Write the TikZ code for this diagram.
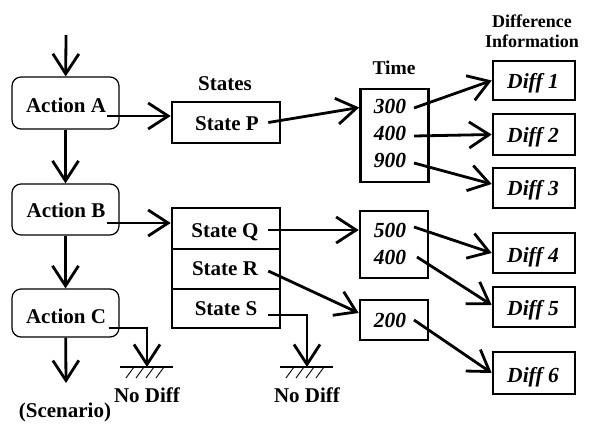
\documentclass[tikz,border=0pt]{standalone}
\usepackage{fontspec}
\setmainfont{Liberation Serif}
\usetikzlibrary{arrows.meta,calc}
\begin{document}
\begin{tikzpicture}[x=1pt,y=-1pt,
  lbl/.style={font=\fontsize{21}{24}\selectfont\bfseries, anchor=base, inner sep=2pt},
  num/.style={font=\fontsize{21.5}{24}\selectfont\bfseries\itshape, anchor=base, inner sep=2pt},
  head/.style={font=\fontsize{18}{20}\selectfont\bfseries, anchor=base, inner sep=0pt},
  actbox/.style={draw, line width=1.2pt, rounded corners=9pt, minimum width=107pt},
  box/.style={draw, line width=2.6pt, minimum width=108pt},
  tbox/.style={draw, line width=2.6pt, minimum width=68pt},
  dbox/.style={draw, line width=2.6pt, minimum width=82pt},
  conn/.style={line width=2.8pt, -{Straight Barb[length=20pt,width=26pt]}},
  hatch/.style={line width=0.9pt},
  groundline/.style={line width=2.2pt},
  ground/.pic={
    \draw[groundline] (-27,0) -- (26,0);
    \foreach \k in {0,...,3} \draw[hatch] (-13+10*\k,0) -- (-21+10*\k,11);
  }]
\useasboundingbox (0,0) rectangle (591,423);

% actions
\node[actbox, minimum height=52pt] (aA) at (65.5,103) {};
\node[actbox, minimum height=51pt] (aB) at (65.5,209.5) {};
\node[actbox, minimum height=48pt] (aC) at (65.5,313) {};
\node[lbl] (aAt) at (66,112) {Action A};
\node[lbl] (aBt) at (66,217) {Action B};
\node[lbl] (aCt) at (66,323) {Action C};
\coordinate (top) at (66,35);
\coordinate (bottom) at (66,383);
\node[lbl] (scen) at (65,417) {(Scenario)};

% states
\node[lbl] (stlbl) at (225,90) {States};
\node[box, minimum height=41pt] (sP) at (226,122.5) {};
\node[box, minimum height=41pt] (sQ) at (226,228.5) {};
\node[box, minimum height=40pt] (sR) at (226,269) {};
\node[box, minimum height=39pt] (sS) at (226,308.5) {};
\node[lbl] (sPt) at (227,130) {State P};
\node[lbl] (sQt) at (225,237) {State Q};
\node[lbl] (sRt) at (225,275) {State R};
\node[lbl] (sSt) at (226,315) {State S};

% times
\node[lbl, font=\fontsize{19.5}{24}\selectfont\bfseries] (tlbl) at (394,74) {Time};
\node[tbox, minimum height=93pt] (t1) at (394.5,135.5) {};
\node[tbox, minimum height=67pt] (t2) at (394,244.5) {};
\node[tbox, minimum height=40pt] (t3) at (394,320) {};
\node[num] (n300) at (390,113) {300};
\node[num] (n400) at (390,140) {400};
\node[num] (n900) at (390,167) {900};
\node[num] (n500) at (390,237) {500};
\node[num] (n400b) at (390,264) {400};
\node[num] (n200) at (390,327) {200};

% difference information
\node[head] (dlbl1) at (532,27.5) {Difference};
\node[head] (dlbl2) at (532,47) {Information};
\node[dbox, minimum height=39pt] (d1) at (534,80.5) {};
\node[dbox, minimum height=41pt] (d2) at (534,134.5) {};
\node[dbox, minimum height=40pt] (d3) at (534,188) {};
\node[dbox, minimum height=40pt] (d4) at (534,253) {};
\node[dbox, minimum height=40pt] (d5) at (534,307) {};
\node[dbox, minimum height=42pt] (d6) at (534,373) {};
\node[num] (d1t) at (533,88) {Diff 1};
\node[num] (d2t) at (533,142) {Diff 2};
\node[num] (d3t) at (533,195) {Diff 3};
\node[num] (d4t) at (533,262) {Diff 4};
\node[num] (d5t) at (533,315) {Diff 5};
\node[num] (d6t) at (533,382) {Diff 6};

% grounds
\coordinate (gC) at (147,367);
\coordinate (gS) at (307,367);
\pic at (gC) {ground};
\pic at (gS) {ground};
\node[lbl] (ndC) at (147,402) {No Diff};
\node[lbl] (ndS) at (307,402) {No Diff};

% action flow
\draw[conn] (top) -- (aA);
\draw[conn] (aA) -- (aB);
\draw[conn] (aB) -- (aC);
\draw[conn] (aC) -- (bottom);

% actions to states
\coordinate (aAo) at ([shift={(-13,13)}]aA.east);
\coordinate (aBo) at ([shift={(-13,13.5)}]aB.east);
\coordinate (aCo) at ([shift={(-11,15)}]aC.east);
\draw[conn] (aAo) -- (aAo -| sP.west);
\draw[conn] (aBo) -- (aBo -| sQ.west);
\draw[conn] (aCo) -| (gC);

% states to times
\coordinate (sPo) at ([xshift=-13pt]sP.east);
\coordinate (sQo) at ([shift={(-13,1.5)}]sQ.east);
\coordinate (sRo) at ([shift={(-13,2)}]sR.east);
\coordinate (sSo) at ([shift={(-13,6.5)}]sS.east);
\draw[conn] (sPo) -- ([yshift=28pt]t1.west);
\draw[conn] (sQo) -- (sQo -| t2.west);
\draw[conn] (sRo) -- ([yshift=7pt]t3.west);
\draw[conn] (sSo) -| (gS);

% times to differences
\coordinate (o300) at (414,108);
\coordinate (o400) at (414,136);
\coordinate (o900) at (414,163);
\coordinate (o500) at (414,227);
\coordinate (o400b) at (417,257);
\coordinate (o200) at (414,320);
\draw[conn] (o300) -- (d1.west);
\draw[conn] (o400) -- (d2.west);
\draw[conn] (o900) -- ([yshift=4pt]d3.west);
\draw[conn] (o500) -- (d4.west);
\draw[conn] (o400b) -- ([yshift=2pt]d5.west);
\draw[conn] (o200) -- (d6.west);
\end{tikzpicture}
\end{document}
